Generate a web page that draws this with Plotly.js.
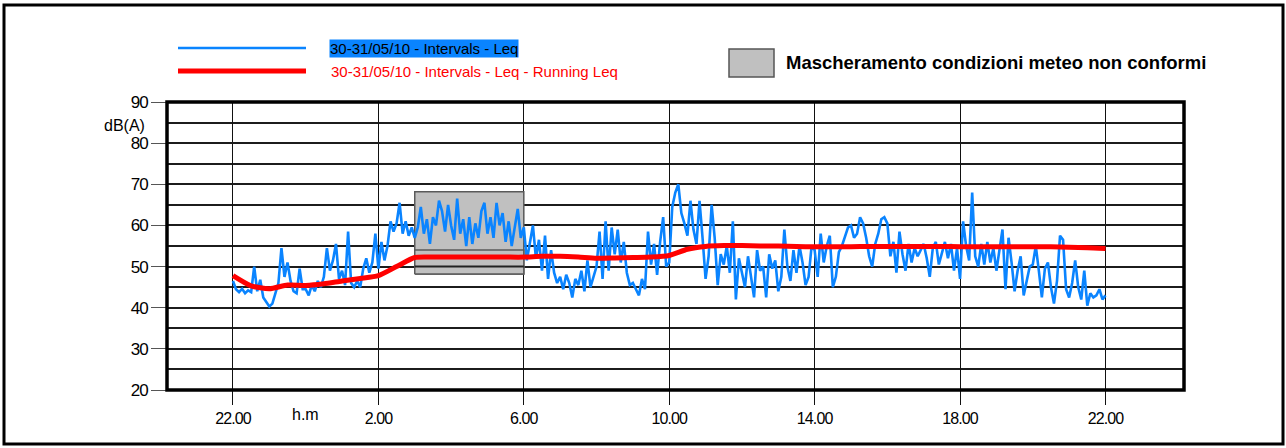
<!DOCTYPE html>
<html>
<head>
<meta charset="utf-8">
<script src="https://cdn.plot.ly/plotly-3.0.1.min.js"></script>
<style>
  html, body { margin: 0; padding: 0; background: #fff; }
  #chart { width: 1286px; height: 448px; }
  .xtick text { letter-spacing: -0.9px; }
  .ytick text { letter-spacing: -1px; }
</style>
</head>
<body>
<div id="chart"></div>
<script>
// ---- Data (hours measured from 22.00 of 30/05) ----
const tickHours = [0, 4, 8, 12, 16, 20, 24];
const tickLabels = ["22.00", "2.00", "6.00", "10.00", "14.00", "18.00", "22.00"];
const yTicks = [20, 30, 40, 50, 60, 70, 80, 90];

// 5-minute interval Leq, dB(A), 22.00 -> 22.00
const leqIntervals = [
  // 22.00-23.00
  46.5, 44.5, 43.8, 44.6, 43.5, 44.2, 43.8, 50.0, 44.0, 46.8, 42.5, 41.5,
  // 23.00-0.00
  40.3, 41.0, 43.5, 46.0, 54.5, 47.5, 51.0, 46.5, 44.0, 43.5, 49.5, 44.5,
  // 0.00-1.00
  44.5, 43.0, 45.5, 44.0, 46.5, 45.0, 47.5, 54.5, 49.0, 51.5, 55.5, 47.0,
  // 1.00-2.00
  49.0, 45.5, 58.5, 46.0, 45.0, 46.5, 45.0, 49.5, 52.0, 48.5, 51.0, 58.0,
  // 2.00-3.00
  49.5, 56.0, 51.5, 55.0, 61.0, 58.5, 60.5, 65.5, 58.0, 61.0, 57.5, 59.5,
  // 3.00-4.00
  57.0, 59.5, 64.5, 58.0, 61.5, 55.5, 62.0, 60.0, 66.0, 63.5, 58.5, 65.0,
  // 4.00-5.00
  60.0, 56.5, 66.5, 58.0, 61.5, 55.0, 62.0, 55.5, 60.5, 57.0, 63.5, 65.5,
  // 5.00-6.00
  58.0, 62.0, 57.0, 65.5, 60.0, 63.0, 56.0, 61.0, 55.0, 59.5, 64.0, 57.0,
  // 6.00-7.00
  59.5, 51.5, 56.0, 60.0, 52.0, 56.5, 49.0, 57.5, 47.0, 54.0, 48.5, 46.0,
  // 7.00-8.00
  47.5, 44.5, 48.0, 46.0, 42.5, 47.0, 45.5, 49.0, 44.0, 51.5, 45.0, 47.5,
  // 8.00-9.00
  50.0, 58.5, 47.0, 61.0, 49.0, 59.5, 53.0, 59.0, 51.0, 56.0, 48.5, 45.5,
  // 9.00-10.00
  46.0, 44.5, 43.0, 47.0, 44.5, 58.5, 50.5, 55.5, 48.0, 56.0, 62.0, 50.0,
  // 10.00-11.00
  51.0, 64.5, 68.0, 70.0, 63.0, 60.5, 57.5, 66.0, 59.0, 55.5, 66.0, 57.0,
  // 11.00-12.00
  47.0, 52.5, 65.0, 57.0, 45.5, 53.0, 50.5, 55.0, 48.5, 61.0, 42.0, 52.0,
  // 12.00-13.00
  48.0, 45.0, 52.5, 47.0, 42.5, 54.0, 49.0, 50.0, 42.5, 53.0, 49.5, 51.5,
  // 13.00-14.00
  44.0, 47.5, 59.0, 50.0, 46.5, 54.0, 48.5, 55.0, 51.0, 45.5, 47.5, 55.0,
  // 14.00-15.00
  54.0, 47.5, 58.0, 51.0, 55.0, 57.5, 45.0, 47.5, 53.5, 55.0, 57.0, 59.5,
  // 15.00-16.00
  60.0, 57.0, 58.0, 62.0, 60.5, 57.0, 52.5, 50.0, 55.5, 58.0, 61.5, 62.0,
  // 16.00-17.00
  60.5, 52.5, 56.0, 48.5, 58.5, 53.0, 49.0, 55.5, 51.0, 54.5, 52.5, 54.0,
  // 17.00-18.00
  55.5, 52.0, 47.5, 54.5, 56.0, 50.5, 53.0, 56.0, 52.0, 55.5, 49.0, 54.5,
  // 18.00-19.00
  47.0, 61.0, 55.0, 51.5, 68.0, 52.5, 50.0, 55.5, 50.5, 56.0, 51.0, 54.5,
  // 19.00-20.00
  49.0, 54.0, 59.0, 44.5, 57.0, 51.0, 44.0, 49.0, 52.5, 43.0, 47.0, 50.0,
  // 20.00-21.00
  50.5, 55.0, 49.0, 42.5, 49.5, 51.0, 45.0, 41.0, 46.5, 57.5, 56.5, 44.5,
  // 21.00-22.00
  42.5, 46.0, 51.5, 45.0, 42.0, 49.0, 40.5, 43.5, 42.5, 43.0, 44.5, 42.0,
  43.0
];
const intervalStepHours = 5 / 60;

// Running Leq, dB(A), every 30 minutes
const runningLeq = [
  47.8, 45.3, 44.6, 45.5, 45.4, 45.8, 46.5, 47.1, 47.8, 50.0,
  52.2, 52.3, 52.3, 52.3, 52.3, 52.3, 52.3, 52.5, 52.5, 52.3,
  52.0, 52.1, 52.2, 52.3, 52.7, 54.2, 54.9, 55.1, 55.1, 55.0,
  55.0, 54.9, 54.8, 54.8, 54.8, 54.9, 54.9, 54.9, 54.9, 54.9,
  54.8, 54.8, 54.8, 54.8, 54.8, 54.8, 54.7, 54.6, 54.4
];
const runningStepHours = 0.5;

// Masking of non-compliant weather conditions (3.00 -> 6.00)
const maskStart = 5, maskEnd = 8;
const maskLow = 48.2, maskHigh = 68.2, maskSplit = 54.0;

const seriesNames = ["30-31/05/10 - Intervals - Leq", "30-31/05/10 - Intervals - Leq - Running Leq"];
const maskLabel = "Mascheramento condizioni meteo non conformi";

// ---- Build traces ----
const xInt = leqIntervals.map((_, i) => i * intervalStepHours);
const xRun = runningLeq.map((_, i) => i * runningStepHours);

const traces = [
  { // upper mask box (below the interval line)
    x: [maskStart, maskEnd, maskEnd, maskStart, maskStart],
    y: [maskLow, maskLow, maskHigh, maskHigh, maskLow],
    mode: "lines", fill: "toself", fillcolor: "#c0c0c0",
    line: { color: "#5a5a5a", width: 1.5 }, hoverinfo: "skip", showlegend: false
  },
  {
    x: xInt, y: leqIntervals, mode: "lines", name: seriesNames[0],
    line: { color: "#0a84ff", width: 2.6 }, showlegend: false
  },
  { // lower mask box (over the interval line)
    x: [maskStart, maskEnd, maskEnd, maskStart, maskStart],
    y: [maskLow, maskLow, maskSplit, maskSplit, maskLow],
    mode: "lines", fill: "toself", fillcolor: "#c0c0c0",
    line: { color: "#5a5a5a", width: 1.5 }, hoverinfo: "skip", showlegend: false
  },
  { // grid line 50 redrawn over the lower mask
    x: [maskStart, maskEnd], y: [50, 50], mode: "lines",
    line: { color: "#222", width: 2 }, hoverinfo: "skip", showlegend: false
  },
  {
    x: xRun, y: runningLeq, mode: "lines", name: seriesNames[1],
    line: { color: "#ff0000", width: 5, shape: "spline", smoothing: 0.6 }, showlegend: false
  }
];

// pixel helpers for decorations outside the plot area
const W = 1286, H = 448, L = 167, R = 102, T = 102, B = 58;
const pw = W - L - R, ph = H - T - B;
const px = v => (v - L) / pw;
const py = v => (H - B - v) / ph;

const font = "Liberation Sans, Arial, sans-serif";

const layout = {
  width: W, height: H,
  margin: { l: L, r: R, t: T, b: B, pad: 0 },
  paper_bgcolor: "#fff", plot_bgcolor: "#fff",
  showlegend: false,
  font: { family: font, color: "#000" },
  xaxis: {
    range: [-1.815, 26.16], tickmode: "array", tickvals: tickHours, ticktext: tickLabels,
    showgrid: true, gridcolor: "#111", gridwidth: 1,
    ticks: "outside", ticklen: 14, tickwidth: 1, tickcolor: "#111",
    tickfont: { size: 16, family: font, color: "#000" },
    zeroline: false, showline: false, automargin: false, fixedrange: true
  },
  yaxis: {
    range: [20, 90], tickmode: "array", tickvals: yTicks,
    showgrid: true, gridcolor: "#1c1c1c", gridwidth: 2,
    minor: { dtick: 5, tick0: 0, showgrid: true, gridcolor: "#1c1c1c", gridwidth: 2, ticks: "" },
    ticks: "outside", ticklen: 15, tickwidth: 1, tickcolor: "#555",
    tickfont: { size: 17, family: font, color: "#000" },
    zeroline: false, showline: false, automargin: false, fixedrange: true
  },
  shapes: [
    // plot frame
    { type: "rect", xref: "paper", yref: "paper", x0: 0, x1: 1, y0: 0, y1: 1,
      line: { color: "#000", width: 3.5 }, layer: "above" },
    // outer frame
    { type: "rect", xref: "paper", yref: "paper", x0: px(4), x1: px(1283), y0: py(444), y1: py(5),
      line: { color: "#000", width: 3 }, layer: "above" },
    // legend samples
    { type: "line", xref: "paper", yref: "paper", x0: px(178), x1: px(306), y0: py(48), y1: py(48),
      line: { color: "#0a84ff", width: 2.5 } },
    { type: "line", xref: "paper", yref: "paper", x0: px(178), x1: px(306), y0: py(71), y1: py(71),
      line: { color: "#ff0000", width: 5 } },
    { type: "rect", xref: "paper", yref: "paper", x0: px(729), x1: px(774), y0: py(77), y1: py(49),
      fillcolor: "#c0c0c0", line: { color: "#555", width: 1.5 } }
  ],
  annotations: [
    { xref: "paper", yref: "paper", x: px(329), y: py(48), xanchor: "left", yanchor: "middle",
      text: seriesNames[0], showarrow: false, bgcolor: "#0a84ff", borderpad: 0,
      font: { size: 15, family: font, color: "#000" } },
    { xref: "paper", yref: "paper", x: px(329), y: py(71), xanchor: "left", yanchor: "middle",
      text: seriesNames[1], showarrow: false,
      font: { size: 15, family: font, color: "#ff0000" } },
    { xref: "paper", yref: "paper", x: px(784), y: py(62), xanchor: "left", yanchor: "middle",
      text: "<b>" + maskLabel + "</b>", showarrow: false,
      font: { size: 18.5, family: font, color: "#000" } },
    { xref: "paper", yref: "paper", x: px(124), y: py(125), xanchor: "center", yanchor: "middle",
      text: "dB(A)", showarrow: false, font: { size: 16, family: font, color: "#000" } },
    { xref: "paper", yref: "paper", x: px(305), y: py(414), xanchor: "center", yanchor: "middle",
      text: "h.m", showarrow: false, font: { size: 16, family: font, color: "#000" } }
  ]
};

Plotly.newPlot("chart", traces, layout, { staticPlot: true, displayModeBar: false });
</script>
</body>
</html>
